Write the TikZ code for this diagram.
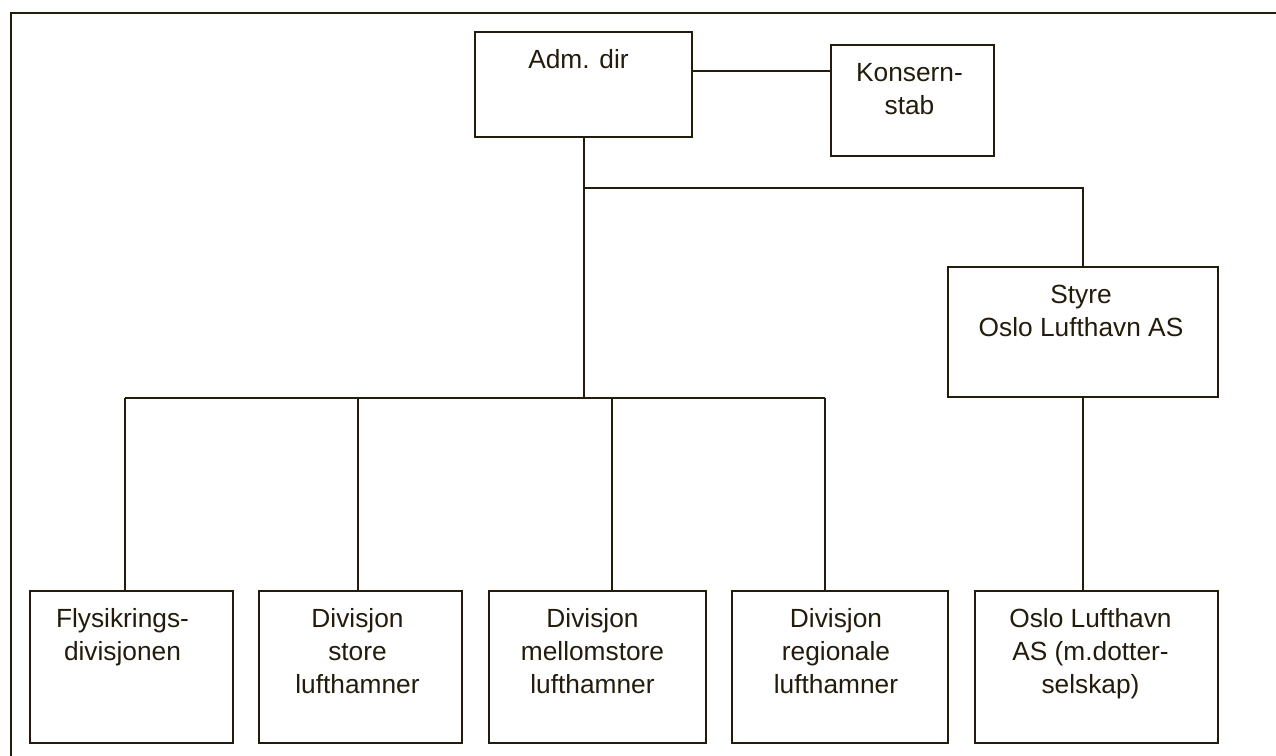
\documentclass[tikz,border=0pt]{standalone}
\usepackage{fontspec}
\setmainfont{Liberation Sans}
\definecolor{ink}{RGB}{35,27,12}
\newcommand{\fst}{\rule{0pt}{25pt}}
\tikzset{
  box/.style={draw=ink, line width=1.5pt, inner sep=0pt},
  txt/.style={anchor=north, align=center, inner sep=0pt, text=ink, font=\fontsize{26.3}{33}\selectfont},
  link/.style={draw=ink, line width=1.5pt},
}
\begin{document}
\begin{tikzpicture}[x=1pt,y=-1pt]
\useasboundingbox (0,0) rectangle (1276,755);
% frame
\draw[link] (11,760) -- (11,13) -- (1280,13);
% boxes
\node[box, minimum width=217pt, minimum height=105pt] (adm) at (583.5,84.5) {};
\node[box, minimum width=163pt, minimum height=111pt] (kons) at (912.5,100.5) {};
\node[box, minimum width=270pt, minimum height=130pt] (styre) at (1083,332) {};
\node[box, minimum width=203pt, minimum height=152pt] (b1) at (131.5,667) {};
\node[box, minimum width=203pt, minimum height=152pt] (b2) at (360.5,667) {};
\node[box, minimum width=217pt, minimum height=152pt] (b3) at (597.5,667) {};
\node[box, minimum width=216pt, minimum height=152pt] (b4) at (840,667) {};
\node[box, minimum width=243pt, minimum height=152pt] (b5) at (1096.5,667) {};
% texts
\node[txt] (tadm) at ([yshift=-12pt,xshift=-5pt]adm.north) {\fst Adm. dir};
\node[txt] (tkons) at ([yshift=-12pt,xshift=-3pt]kons.north) {\fst Konsern-\\stab};
\node[txt] (tstyre) at ([yshift=-12pt,xshift=-2pt]styre.north) {\fst Styre\\Oslo Lufthavn AS};
\node[txt] (tb1) at ([yshift=-12pt,xshift=-9pt]b1.north) {\fst Flysikrings-\\divisjonen};
\node[txt] (tb2) at ([yshift=-12pt,xshift=-3pt]b2.north) {\fst Divisjon\\store\\lufthamner};
\node[txt] (tb3) at ([yshift=-12pt,xshift=-5pt]b3.north) {\fst Divisjon\\mellomstore\\lufthamner};
\node[txt] (tb4) at ([yshift=-12pt,xshift=-4pt]b4.north) {\fst Divisjon\\regionale\\lufthamner};
\node[txt] (tb5) at ([yshift=-12pt,xshift=-6pt]b5.north) {\fst Oslo Lufthavn\\AS (m.dotter-\\selskap)};
% junction coordinates
\coordinate (lk) at (700,71);
\coordinate (j1) at (584,188);
\coordinate (j2) at (584,398);
\coordinate (t1) at (125,398);
\coordinate (t2) at (358,398);
\coordinate (t3) at (612,398);
\coordinate (t4) at (825,398);
% connectors
\draw[link] (adm.east |- lk) -- (kons.west |- lk);
\draw[link] (adm.south -| j1) -- (j1) -- (j2);
\draw[link] (j1) -| (styre.north);
\draw[link] (t1) -- (t4);
\draw[link] (t1) -- (t1 |- b1.north);
\draw[link] (t2) -- (t2 |- b2.north);
\draw[link] (t3) -- (t3 |- b3.north);
\draw[link] (t4) -- (t4 |- b4.north);
\draw[link] (styre.south) -- (styre.south |- b5.north);
\end{tikzpicture}
\end{document}
